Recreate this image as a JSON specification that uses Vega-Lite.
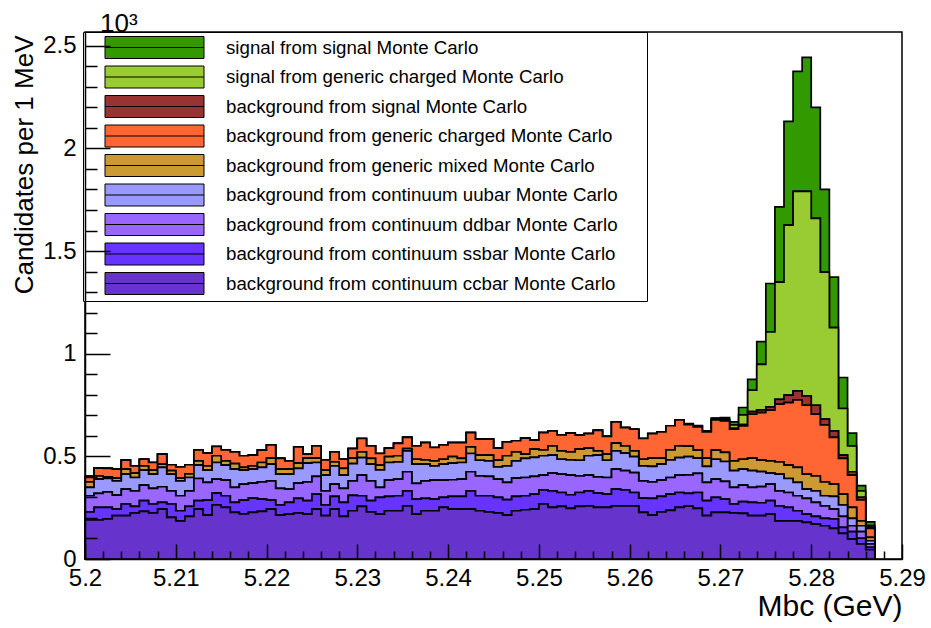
{
  "$schema": "https://vega.github.io/schema/vega-lite/v6.json",
  "width": 817,
  "height": 527,
  "autosize": {"type": "none"},
  "padding": {"left": 85, "top": 32, "right": 29, "bottom": 69},
  "background": "white",
  "config": {
    "font": "Liberation Sans",
    "view": {"stroke": "black", "strokeWidth": 1.5}
  },
  "title": {"text": "10³", "anchor": "start", "frame": "group", "dx": 15, "dy": 28, "fontSize": 26, "fontWeight": "normal", "offset": 2, "baseline": "alphabetic", "color": "black", "font": "Liberation Sans"},
  "data": {"values": [
    {"m":5.200,"cc":190,"ss":40,"dd":78,"uu":41,"mx":27,"ch":26,"sb":0,"gs":0,"sg":0},
    {"m":5.201,"cc":190,"ss":61,"dd":69,"uu":69,"mx":16,"ch":38,"sb":0,"gs":0,"sg":0},
    {"m":5.202,"cc":195,"ss":56,"dd":76,"uu":65,"mx":8,"ch":41,"sb":0,"gs":0,"sg":0},
    {"m":5.203,"cc":211,"ss":32,"dd":68,"uu":70,"mx":13,"ch":44,"sb":0,"gs":0,"sg":0},
    {"m":5.204,"cc":211,"ss":57,"dd":72,"uu":73,"mx":25,"ch":44,"sb":0,"gs":0,"sg":0},
    {"m":5.205,"cc":224,"ss":32,"dd":76,"uu":65,"mx":21,"ch":36,"sb":0,"gs":0,"sg":0},
    {"m":5.206,"cc":232,"ss":52,"dd":76,"uu":73,"mx":21,"ch":32,"sb":0,"gs":0,"sg":0},
    {"m":5.207,"cc":224,"ss":44,"dd":76,"uu":69,"mx":20,"ch":37,"sb":0,"gs":0,"sg":0},
    {"m":5.208,"cc":243,"ss":33,"dd":76,"uu":94,"mx":16,"ch":49,"sb":0,"gs":0,"sg":0},
    {"m":5.209,"cc":203,"ss":65,"dd":64,"uu":81,"mx":17,"ch":29,"sb":0,"gs":0,"sg":0},
    {"m":5.210,"cc":186,"ss":49,"dd":73,"uu":73,"mx":13,"ch":55,"sb":0,"gs":0,"sg":0},
    {"m":5.211,"cc":208,"ss":48,"dd":76,"uu":65,"mx":18,"ch":44,"sb":0,"gs":0,"sg":0},
    {"m":5.212,"cc":243,"ss":41,"dd":108,"uu":65,"mx":21,"ch":54,"sb":0,"gs":0,"sg":0},
    {"m":5.213,"cc":214,"ss":73,"dd":86,"uu":60,"mx":21,"ch":62,"sb":0,"gs":0,"sg":0},
    {"m":5.214,"cc":263,"ss":58,"dd":68,"uu":81,"mx":33,"ch":45,"sb":0,"gs":0,"sg":0},
    {"m":5.215,"cc":251,"ss":57,"dd":76,"uu":73,"mx":21,"ch":54,"sb":0,"gs":0,"sg":0},
    {"m":5.216,"cc":227,"ss":49,"dd":73,"uu":89,"mx":27,"ch":57,"sb":0,"gs":0,"sg":0},
    {"m":5.217,"cc":220,"ss":67,"dd":78,"uu":68,"mx":13,"ch":57,"sb":0,"gs":0,"sg":0},
    {"m":5.218,"cc":227,"ss":70,"dd":73,"uu":68,"mx":16,"ch":52,"sb":0,"gs":0,"sg":0},
    {"m":5.219,"cc":232,"ss":60,"dd":84,"uu":70,"mx":24,"ch":60,"sb":0,"gs":0,"sg":0},
    {"m":5.220,"cc":243,"ss":44,"dd":94,"uu":81,"mx":29,"ch":65,"sb":0,"gs":0,"sg":0},
    {"m":5.221,"cc":214,"ss":49,"dd":81,"uu":69,"mx":25,"ch":52,"sb":0,"gs":0,"sg":0},
    {"m":5.222,"cc":219,"ss":57,"dd":64,"uu":73,"mx":25,"ch":40,"sb":0,"gs":0,"sg":0},
    {"m":5.223,"cc":224,"ss":71,"dd":75,"uu":71,"mx":26,"ch":79,"sb":0,"gs":0,"sg":0},
    {"m":5.224,"cc":219,"ss":65,"dd":92,"uu":91,"mx":24,"ch":20,"sb":0,"gs":0,"sg":0},
    {"m":5.225,"cc":243,"ss":73,"dd":86,"uu":68,"mx":21,"ch":60,"sb":0,"gs":0,"sg":0},
    {"m":5.226,"cc":211,"ss":52,"dd":69,"uu":77,"mx":24,"ch":50,"sb":0,"gs":0,"sg":0},
    {"m":5.227,"cc":243,"ss":62,"dd":60,"uu":89,"mx":19,"ch":49,"sb":0,"gs":0,"sg":0},
    {"m":5.228,"cc":208,"ss":68,"dd":68,"uu":65,"mx":32,"ch":45,"sb":0,"gs":0,"sg":0},
    {"m":5.229,"cc":235,"ss":75,"dd":71,"uu":84,"mx":26,"ch":47,"sb":0,"gs":0,"sg":0},
    {"m":5.230,"cc":256,"ss":52,"dd":101,"uu":85,"mx":28,"ch":65,"sb":0,"gs":0,"sg":0},
    {"m":5.231,"cc":230,"ss":54,"dd":97,"uu":81,"mx":28,"ch":61,"sb":0,"gs":0,"sg":0},
    {"m":5.232,"cc":219,"ss":81,"dd":49,"uu":85,"mx":23,"ch":57,"sb":0,"gs":0,"sg":0},
    {"m":5.233,"cc":235,"ss":70,"dd":79,"uu":86,"mx":29,"ch":41,"sb":0,"gs":0,"sg":0},
    {"m":5.234,"cc":235,"ss":73,"dd":81,"uu":84,"mx":30,"ch":60,"sb":0,"gs":0,"sg":0},
    {"m":5.235,"cc":259,"ss":73,"dd":93,"uu":102,"mx":11,"ch":54,"sb":0,"gs":0,"sg":0},
    {"m":5.236,"cc":219,"ss":73,"dd":76,"uu":94,"mx":24,"ch":65,"sb":0,"gs":0,"sg":0},
    {"m":5.237,"cc":235,"ss":60,"dd":86,"uu":81,"mx":21,"ch":84,"sb":0,"gs":0,"sg":0},
    {"m":5.238,"cc":235,"ss":57,"dd":92,"uu":70,"mx":24,"ch":65,"sb":0,"gs":0,"sg":0},
    {"m":5.239,"cc":251,"ss":49,"dd":84,"uu":78,"mx":24,"ch":70,"sb":0,"gs":0,"sg":0},
    {"m":5.240,"cc":243,"ss":62,"dd":81,"uu":81,"mx":32,"ch":68,"sb":0,"gs":0,"sg":0},
    {"m":5.241,"cc":243,"ss":62,"dd":84,"uu":81,"mx":20,"ch":77,"sb":0,"gs":0,"sg":0},
    {"m":5.242,"cc":243,"ss":89,"dd":93,"uu":89,"mx":32,"ch":70,"sb":0,"gs":0,"sg":0},
    {"m":5.243,"cc":235,"ss":73,"dd":97,"uu":76,"mx":25,"ch":78,"sb":0,"gs":0,"sg":0},
    {"m":5.244,"cc":230,"ss":78,"dd":94,"uu":76,"mx":28,"ch":78,"sb":0,"gs":0,"sg":0},
    {"m":5.245,"cc":224,"ss":76,"dd":89,"uu":60,"mx":33,"ch":58,"sb":0,"gs":0,"sg":0},
    {"m":5.246,"cc":214,"ss":75,"dd":84,"uu":81,"mx":49,"ch":68,"sb":0,"gs":0,"sg":0},
    {"m":5.247,"cc":235,"ss":70,"dd":89,"uu":84,"mx":44,"ch":54,"sb":0,"gs":0,"sg":0},
    {"m":5.248,"cc":240,"ss":68,"dd":89,"uu":93,"mx":21,"ch":78,"sb":0,"gs":0,"sg":0},
    {"m":5.249,"cc":243,"ss":73,"dd":86,"uu":93,"mx":40,"ch":44,"sb":0,"gs":0,"sg":0},
    {"m":5.250,"cc":268,"ss":69,"dd":72,"uu":94,"mx":29,"ch":84,"sb":0,"gs":0,"sg":0},
    {"m":5.251,"cc":251,"ss":81,"dd":86,"uu":88,"mx":45,"ch":73,"sb":0,"gs":0,"sg":0},
    {"m":5.252,"cc":256,"ss":68,"dd":89,"uu":73,"mx":41,"ch":78,"sb":0,"gs":0,"sg":0},
    {"m":5.253,"cc":247,"ss":66,"dd":96,"uu":74,"mx":39,"ch":91,"sb":0,"gs":0,"sg":0},
    {"m":5.254,"cc":256,"ss":68,"dd":81,"uu":76,"mx":54,"ch":68,"sb":0,"gs":0,"sg":0},
    {"m":5.255,"cc":259,"ss":73,"dd":77,"uu":94,"mx":37,"ch":71,"sb":0,"gs":0,"sg":0},
    {"m":5.256,"cc":251,"ss":70,"dd":79,"uu":106,"mx":21,"ch":100,"sb":0,"gs":0,"sg":0},
    {"m":5.257,"cc":251,"ss":65,"dd":81,"uu":84,"mx":30,"ch":86,"sb":0,"gs":0,"sg":0},
    {"m":5.258,"cc":259,"ss":81,"dd":98,"uu":89,"mx":37,"ch":104,"sb":0,"gs":0,"sg":0},
    {"m":5.259,"cc":259,"ss":77,"dd":94,"uu":86,"mx":35,"ch":89,"sb":0,"gs":0,"sg":0},
    {"m":5.260,"cc":259,"ss":65,"dd":97,"uu":78,"mx":28,"ch":105,"sb":0,"gs":0,"sg":0},
    {"m":5.261,"cc":227,"ss":70,"dd":84,"uu":73,"mx":32,"ch":101,"sb":0,"gs":0,"sg":0},
    {"m":5.262,"cc":214,"ss":81,"dd":81,"uu":75,"mx":40,"ch":120,"sb":0,"gs":0,"sg":0},
    {"m":5.263,"cc":230,"ss":75,"dd":79,"uu":78,"mx":29,"ch":128,"sb":0,"gs":0,"sg":0},
    {"m":5.264,"cc":237,"ss":79,"dd":81,"uu":86,"mx":49,"ch":117,"sb":0,"gs":0,"sg":0},
    {"m":5.265,"cc":251,"ss":73,"dd":85,"uu":85,"mx":57,"ch":127,"sb":0,"gs":0,"sg":0},
    {"m":5.266,"cc":257,"ss":63,"dd":90,"uu":89,"mx":51,"ch":105,"sb":3,"gs":0,"sg":2},
    {"m":5.267,"cc":247,"ss":77,"dd":93,"uu":74,"mx":39,"ch":114,"sb":4,"gs":0,"sg":2},
    {"m":5.268,"cc":211,"ss":73,"dd":89,"uu":78,"mx":40,"ch":128,"sb":5,"gs":0,"sg":0},
    {"m":5.269,"cc":227,"ss":73,"dd":89,"uu":97,"mx":44,"ch":148,"sb":6,"gs":0,"sg":2},
    {"m":5.270,"cc":227,"ss":65,"dd":86,"uu":97,"mx":44,"ch":154,"sb":5,"gs":3,"sg":8},
    {"m":5.271,"cc":224,"ss":44,"dd":81,"uu":81,"mx":48,"ch":154,"sb":5,"gs":16,"sg":15},
    {"m":5.272,"cc":222,"ss":57,"dd":81,"uu":78,"mx":48,"ch":162,"sb":7,"gs":47,"sg":36},
    {"m":5.273,"cc":211,"ss":65,"dd":73,"uu":81,"mx":61,"ch":214,"sb":13,"gs":104,"sg":53},
    {"m":5.274,"cc":211,"ss":63,"dd":79,"uu":73,"mx":56,"ch":231,"sb":13,"gs":222,"sg":111},
    {"m":5.275,"cc":219,"ss":65,"dd":81,"uu":53,"mx":60,"ch":247,"sb":16,"gs":365,"sg":236},
    {"m":5.276,"cc":186,"ss":73,"dd":73,"uu":81,"mx":60,"ch":281,"sb":24,"gs":571,"sg":366},
    {"m":5.277,"cc":186,"ss":65,"dd":73,"uu":68,"mx":65,"ch":305,"sb":36,"gs":828,"sg":506},
    {"m":5.278,"cc":186,"ss":49,"dd":73,"uu":65,"mx":73,"ch":329,"sb":44,"gs":972,"sg":584},
    {"m":5.279,"cc":178,"ss":41,"dd":76,"uu":45,"mx":73,"ch":336,"sb":45,"gs":997,"sg":652},
    {"m":5.280,"cc":170,"ss":38,"dd":68,"uu":56,"mx":73,"ch":300,"sb":44,"gs":910,"sg":541},
    {"m":5.281,"cc":162,"ss":36,"dd":61,"uu":49,"mx":68,"ch":277,"sb":28,"gs":716,"sg":403},
    {"m":5.282,"cc":149,"ss":46,"dd":48,"uu":62,"mx":60,"ch":227,"sb":32,"gs":503,"sg":246},
    {"m":5.283,"cc":125,"ss":29,"dd":54,"uu":55,"mx":53,"ch":174,"sb":16,"gs":227,"sg":151},
    {"m":5.284,"cc":97,"ss":36,"dd":29,"uu":36,"mx":53,"ch":158,"sb":16,"gs":126,"sg":62},
    {"m":5.285,"cc":73,"ss":28,"dd":32,"uu":29,"mx":24,"ch":102,"sb":12,"gs":32,"sg":25},
    {"m":5.286,"cc":45,"ss":12,"dd":16,"uu":16,"mx":16,"ch":44,"sb":6,"gs":8,"sg":18},
    {"m":5.287,"cc":0,"ss":0,"dd":0,"uu":0,"mx":0,"ch":0,"sb":0,"gs":0,"sg":0}
  ]},
  "transform": [
    {"fold": ["sg","gs","sb","ch","mx","uu","dd","ss","cc"], "as": ["key","n"]},
    {"lookup": "key", "from": {"data": {"values": [
      {"key":"sg","label":"signal from signal Monte Carlo","k":9},
      {"key":"gs","label":"signal from generic charged Monte Carlo","k":8},
      {"key":"sb","label":"background from signal Monte Carlo","k":7},
      {"key":"ch","label":"background from generic charged Monte Carlo","k":6},
      {"key":"mx","label":"background from generic mixed Monte Carlo","k":5},
      {"key":"uu","label":"background from continuum uubar Monte Carlo","k":4},
      {"key":"dd","label":"background from continuum ddbar Monte Carlo","k":3},
      {"key":"ss","label":"background from continuum ssbar Monte Carlo","k":2},
      {"key":"cc","label":"background from continuum ccbar Monte Carlo","k":1}
    ]}, "key": "key", "fields": ["label","k"]}}
  ],
  "mark": {"type": "area", "interpolate": "step-after", "stroke": "black", "strokeWidth": 1.7, "opacity": 1, "fillOpacity": 1},
  "encoding": {
    "x": {"field": "m", "type": "quantitative",
      "scale": {"domain": [5.2, 5.29], "nice": false, "zero": false},
      "axis": {
        "values": [5.2,5.202,5.204,5.206,5.208,5.21,5.212,5.214,5.216,5.218,5.22,5.222,5.224,5.226,5.228,5.23,5.232,5.234,5.236,5.238,5.24,5.242,5.244,5.246,5.248,5.25,5.252,5.254,5.256,5.258,5.26,5.262,5.264,5.266,5.268,5.27,5.272,5.274,5.276,5.278,5.28,5.282,5.284,5.286,5.288,5.29],
        "title": "Mbc (GeV)", "titleFontSize": 30, "titleFontWeight": "normal", "titleColor": "black",
        "titleAnchor": "end", "titleAlign": "right", "titleBaseline": "alphabetic", "titleX": 817, "titleY": 56,
        "labelExpr": "round(datum.value*1000) % 10 === 0 ? format(datum.value, '.2~f') : ''",
        "labelFontSize": 24, "labelColor": "black", "labelPadding": 22, "labelBaseline": "top", "labelFlush": false, "labelOverlap": false,
        "tickSize": {"condition": {"test": "round(datum.value*1000) % 10 === 0", "value": -15}, "value": -8},
        "tickColor": "black", "tickWidth": 1.5, "domainColor": "black", "domainWidth": 1.5, "grid": false, "zindex": 1
      }},
    "y": {"field": "n", "type": "quantitative", "stack": "zero",
      "scale": {"domain": [0, 2567], "nice": false},
      "axis": {
        "values": [0,100,200,300,400,500,600,700,800,900,1000,1100,1200,1300,1400,1500,1600,1700,1800,1900,2000,2100,2200,2300,2400,2500],
        "title": "Candidates per 1 MeV", "titleFontSize": 26, "titleFontWeight": "normal", "titleColor": "black",
        "titleAngle": -90, "titleAlign": "right", "titleBaseline": "middle", "titleX": -61, "titleY": 3,
        "labelExpr": "datum.value % 500 === 0 ? format(datum.value/1000, '~g') : ''",
        "labelFontSize": 24, "labelColor": "black", "labelPadding": 34, "labelOverlap": false, "labelFlush": false,
        "tickSize": {"condition": {"test": "datum.value % 500 === 0", "value": -25}, "value": -12},
        "tickColor": "black", "tickWidth": 1.5, "domainColor": "black", "domainWidth": 1.5, "grid": false, "zindex": 1
      }},
    "color": {"field": "label", "type": "nominal",
      "scale": {
        "domain": ["signal from signal Monte Carlo","signal from generic charged Monte Carlo","background from signal Monte Carlo","background from generic charged Monte Carlo","background from generic mixed Monte Carlo","background from continuum uubar Monte Carlo","background from continuum ddbar Monte Carlo","background from continuum ssbar Monte Carlo","background from continuum ccbar Monte Carlo"],
        "range": ["#339900","#99cc33","#993333","#ff6633","#cc9933","#9999ff","#9966ff","#6633ff","#6633cc"]
      },
      "legend": {
        "orient": "none", "legendX": -2, "legendY": 0, "title": null,
        "symbolType": "M-4.5,-1H4.5V1H-4.5Z M-4.5,0H4.5 M44.2,0L44.2,0", "symbolSize": 484,
        "symbolStrokeColor": "black", "symbolStrokeWidth": 1, "symbolOpacity": 1,
        "symbolOffset": 56, "labelOffset": 60, "labelFontSize": 18.7, "labelColor": "black", "labelLimit": 0,
        "padding": 4, "rowPadding": 2.5, "strokeColor": "black", "fillColor": "white"
      }},
    "order": {"field": "k", "type": "quantitative", "sort": "ascending"}
  }
}
